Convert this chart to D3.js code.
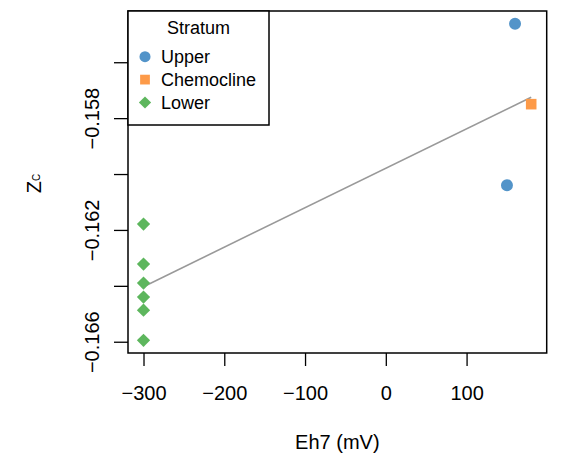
<!DOCTYPE html>
<html><head><meta charset="utf-8">
<script src="https://cdn.jsdelivr.net/npm/d3@7"></script>
<style>body{margin:0;background:#fff}svg{display:block;font-family:"Liberation Sans",Arial,sans-serif}</style>
</head><body>
<svg id="c" width="570" height="454"></svg>
<script>
const strata = ["Upper", "Chemocline", "Lower"];
const colors = ["#5394C9", "#FD9A48", "#5DB65D"];
const eh7 = [160, 150, 180, -300, -300, -300, -300, -300, -300];
const zc = [-0.15462, -0.16040, -0.15750, -0.16179, -0.16322, -0.16390, -0.16440, -0.16487, -0.16595];
const group = ["Upper", "Upper", "Chemocline", "Lower", "Lower", "Lower", "Lower", "Lower", "Lower"];
const xTicks = [-300, -200, -100, 0, 100];
const yTicks = [-0.156, -0.158, -0.160, -0.162, -0.164, -0.166];
const yTickLabels = ["", "\u22120.158", "", "\u22120.162", "", "\u22120.166"];

const L = 128, R = 546.7, T = 11, B = 353;
const FONT = "Liberation Sans, Arial, sans-serif";
const svg = d3.select("#c");
const pad = (e) => { const d = (e[1] - e[0]) * 0.04; return [e[0] - d, e[1] + d]; };
const x = d3.scaleLinear().domain(pad(d3.extent(eh7))).range([L, R]);
const y = d3.scaleLinear().domain(pad(d3.extent(zc))).range([B, T]);

// regression line (least squares)
const mx = d3.mean(eh7), my = d3.mean(zc);
let sxy = 0, sxx = 0;
eh7.forEach((v, i) => { sxy += (v - mx) * (zc[i] - my); sxx += (v - mx) * (v - mx); });
const slope = sxy / sxx, icpt = my - slope * mx;
const [x0, x1] = d3.extent(eh7);
svg.append("line").attr("x1", x(x0)).attr("y1", y(icpt + slope * x0))
  .attr("x2", x(x1)).attr("y2", y(icpt + slope * x1))
  .attr("stroke", "#999").attr("stroke-width", 1.6);

const sym = { Upper: d3.symbolCircle, Chemocline: d3.symbolSquare, Lower: d3.symbolSquare };
const sz = { Upper: 113, Chemocline: 112, Lower: 88 };
const rot = { Upper: 0, Chemocline: 0, Lower: 45 };
const col = d3.scaleOrdinal().domain(strata).range(colors);
svg.selectAll("path.pt").data(eh7.map((v, i) => ({ x: v, y: zc[i], g: group[i] })))
  .join("path").attr("class", "pt")
  .attr("transform", d => `translate(${x(d.x)},${y(d.y)}) rotate(${rot[d.g]})`)
  .attr("d", d => d3.symbol().type(sym[d.g]).size(sz[d.g])())
  .attr("fill", d => col(d.g));

// x axis
const xa = svg.append("g").attr("transform", `translate(0,${B})`)
  .call(d3.axisBottom(x).tickValues(xTicks).tickSize(13)
    .tickFormat(d => String(d).replace("-", "\u2212")));
xa.select(".domain").remove();
xa.selectAll("line").attr("stroke", "#000").attr("stroke-width", 1.3);
xa.selectAll("text").attr("font-size", 20).attr("fill", "#000").attr("font-family", FONT)
  .attr("y", 47).attr("dy", 0);

// y axis
const ya = svg.append("g").attr("transform", `translate(${L},0)`)
  .call(d3.axisLeft(y).tickValues(yTicks).tickSize(14).tickFormat((d, i) => yTickLabels[i]));
ya.select(".domain").remove();
ya.selectAll("line").attr("stroke", "#000").attr("stroke-width", 1.3);
ya.selectAll("text").attr("font-size", 20).attr("fill", "#000").attr("font-family", FONT)
  .attr("text-anchor", "middle").attr("x", 0).attr("y", 0).attr("dy", 0)
  .attr("transform", "translate(-29,0) rotate(-90)");

// box
svg.append("rect").attr("x", L).attr("y", T).attr("width", R - L).attr("height", B - T)
  .attr("fill", "none").attr("stroke", "#000").attr("stroke-width", 1.5);

// axis titles
svg.append("text").attr("x", (L + R) / 2).attr("y", 449).attr("text-anchor", "middle")
  .attr("font-size", 20).text("Eh7 (mV)");
const yl = svg.append("text").attr("transform", "translate(41,183.5) rotate(-90)")
  .attr("text-anchor", "middle").attr("font-size", 20);
yl.append("tspan").text("Z");
yl.append("tspan").attr("font-size", 10).attr("dy", -1).text("C");

// legend
const lg = svg.append("g");
lg.append("rect").attr("x", L).attr("y", T).attr("width", 141).attr("height", 114)
  .attr("fill", "#fff").attr("stroke", "#000").attr("stroke-width", 1.5);
lg.append("text").attr("x", 198.5).attr("y", 34).attr("text-anchor", "middle").attr("font-size", 18).text("Stratum");
strata.forEach((s, i) => {
  const yy = 56.7 + i * 22.9;
  lg.append("path").attr("transform", `translate(145,${yy}) rotate(${rot[s]})`)
    .attr("d", d3.symbol().type(sym[s]).size(sz[s] * 0.85)()).attr("fill", colors[i]);
  lg.append("text").attr("x", 161).attr("y", yy + 6.7).attr("font-size", 18).text(s);
});
</script>
</body></html>
